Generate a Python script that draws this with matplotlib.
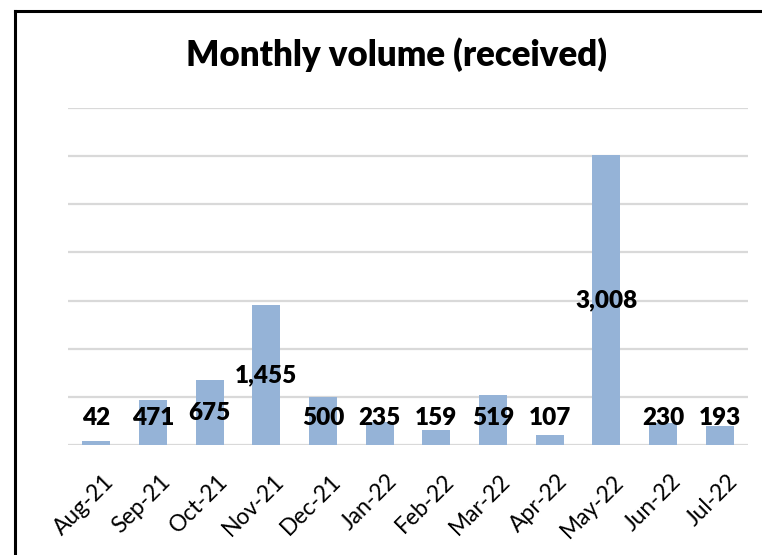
import matplotlib
matplotlib.use("Agg")
import matplotlib.pyplot as plt
from matplotlib.lines import Line2D
from matplotlib.transforms import ScaledTranslation

months = ["Aug-21", "Sep-21", "Oct-21", "Nov-21", "Dec-21", "Jan-22",
          "Feb-22", "Mar-22", "Apr-22", "May-22", "Jun-22", "Jul-22"]
volumes = [42, 471, 675, 1455, 500, 235, 159, 519, 107, 3008, 230, 193]
title = "Monthly volume (received)"

plt.rcParams['font.family'] = ['Lato', 'DejaVu Sans']

W, H = 762, 555
fig = plt.figure(figsize=(W / 100, H / 100), dpi=100)
ax = fig.add_axes([68 / W, 1 - 445 / H, 680 / W, 337 / H])

x = list(range(len(months)))
ax.bar(x, volumes, width=0.49, color="#95B3D7", zorder=2)
ax.set_xlim(-0.5, len(months) - 0.5)
ax.set_ylim(0, 3500)
ax.set_yticks(range(0, 3501, 500))
ax.yaxis.grid(True, color="#D9D9D9", linewidth=1.6, zorder=0)
ax.tick_params(axis='y', left=False, labelleft=False)
ax.tick_params(axis='x', length=0, pad=18.5)
for s in ax.spines.values():
    s.set_visible(False)
ax.set_xticks(x)
ax.set_xticklabels(months, rotation=45, ha='right', rotation_mode='anchor',
                   fontsize=16.5)
shift = ScaledTranslation(7 / 100, 0, fig.dpi_scale_trans)
for lbl in ax.get_xticklabels():
    lbl.set_transform(lbl.get_transform() + shift)

for xi, v in zip(x, volumes):
    ax.text(xi, max(v / 2, 280), f"{v:,}", ha='center', va='center',
            fontsize=17.5, fontweight='heavy', zorder=3)

fig.text(397 / W, 1 - 55 / H, title, ha='center', va='center',
         fontsize=25, fontweight='heavy')

# chart frame (left and top edges visible)
fig.add_artist(Line2D([14.5 / W, 14.5 / W], [0, 1 - 11 / H], color='black',
                      linewidth=2.2, transform=fig.transFigure))
fig.add_artist(Line2D([14.5 / W, 1], [1 - 11 / H, 1 - 11 / H], color='black',
                      linewidth=2.2, transform=fig.transFigure))

fig.savefig("out.png", dpi=100)
